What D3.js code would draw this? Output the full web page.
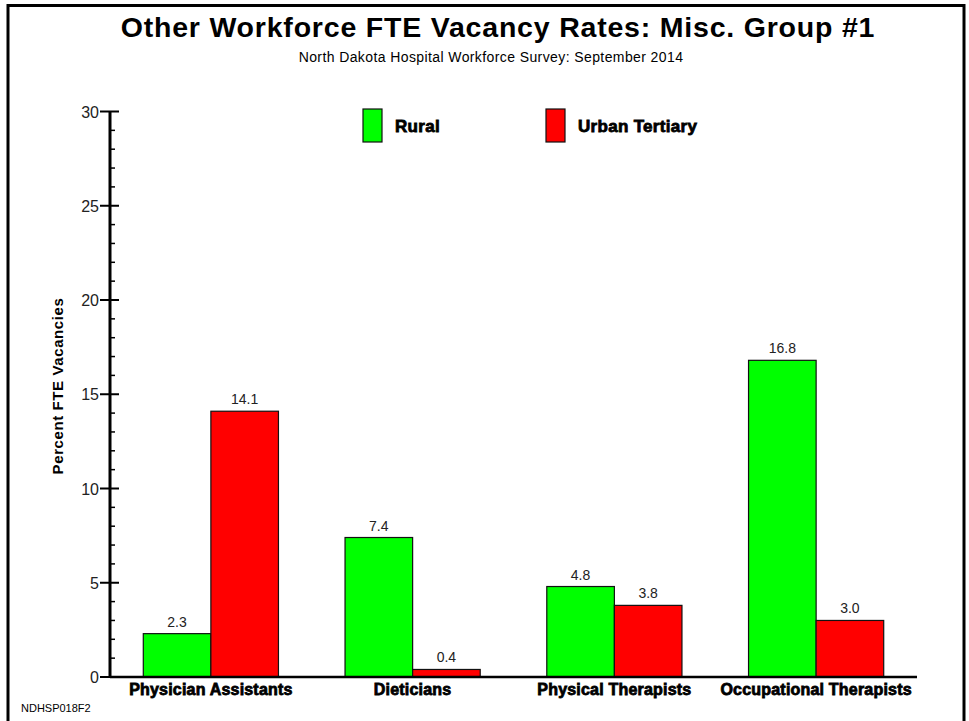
<!DOCTYPE html>
<head>
    <style>
        body { margin: 0; background: #fff; }
        text { font-family: "Liberation Sans", Arial, sans-serif; }
        .title { font-size: 28.5px; font-weight: bold; text-anchor: middle; letter-spacing: 0.8px; }
        .subtitle { font-size: 14px; text-anchor: middle; letter-spacing: 0.4px; }
        .cat { font-size: 16px; font-weight: bold; text-anchor: middle; stroke: #000; stroke-width: 0.8px; letter-spacing: 0.2px; }
        .leg { font-size: 17px; font-weight: bold; stroke: #000; stroke-width: 0.8px; letter-spacing: 0.3px; }
        .val { font-size: 14px; text-anchor: middle; fill: #222; }
        .tick-lbl { font-size: 16px; text-anchor: end; fill: #222; }
    </style>
    <script src="https://d3js.org/d3.v7.min.js"></script>
</head>
<body>
    <svg width="969" height="721"></svg>
    <script>
        var categories = ["Physician Assistants", "Dieticians", "Physical Therapists", "Occupational Therapists"];
        var seriesNames = ["Rural", "Urban Tertiary"];
        var rural = [2.3, 7.4, 4.8, 16.8];
        var urban = [14.1, 0.4, 3.8, 3.0];
        var yTicks = [0, 5, 10, 15, 20, 25, 30];
        var colors = ["#00ff00", "#ff0000"];

        var svg = d3.select("svg");

        // outer frame
        svg.append("rect")
           .attr("x", 8).attr("y", 5.5)
           .attr("width", 956).attr("height", 730)
           .attr("fill", "none").attr("stroke", "#000").attr("stroke-width", 3);

        svg.append("text").attr("class", "title")
           .attr("x", 498).attr("y", 37)
           .text("Other Workforce FTE Vacancy Rates: Misc. Group #1");
        svg.append("text").attr("class", "subtitle")
           .attr("x", 491).attr("y", 62)
           .text("North Dakota Hospital Workforce Survey: September 2014");

        var x0 = 110, x1 = 917, yTop = 111.5, yBot = 677;

        var x = d3.scaleBand().domain(categories).range([x0, x1])
                  .paddingInner(0.33).paddingOuter(0.165);
        var xs = d3.scaleBand().domain(seriesNames).range([0, x.bandwidth()]);
        var y = d3.scaleLinear().domain([0, 30]).range([yBot, yTop]);

        var g = svg.append("g");

        // bars
        var groups = g.selectAll(".grp")
            .data(categories)
            .enter().append("g")
            .attr("transform", function(d) { return "translate(" + x(d) + ",0)"; });

        groups.selectAll("rect")
            .data(function(d, i) { return [rural[i], urban[i]].map(function(v, j) { return { s: seriesNames[j], v: v, j: j }; }); })
            .enter().append("rect")
            .attr("x", function(d) { return xs(d.s); })
            .attr("y", function(d) { return y(d.v); })
            .attr("width", xs.bandwidth())
            .attr("height", function(d) { return yBot - y(d.v); })
            .attr("fill", function(d) { return colors[d.j]; })
            .attr("stroke", "#111").attr("stroke-width", 1.2);

        groups.selectAll(".val")
            .data(function(d, i) { return [rural[i], urban[i]].map(function(v, j) { return { s: seriesNames[j], v: v }; }); })
            .enter().append("text").attr("class", "val")
            .attr("x", function(d) { return xs(d.s) + xs.bandwidth() / 2; })
            .attr("y", function(d) { return y(d.v) - 7; })
            .text(function(d) { return d.v.toFixed(1); });

        // y axis: minor ticks every 1, major crossing ticks every 5
        var minor = d3.range(0, 31).filter(function(v) { return v % 5 !== 0; });
        g.selectAll(".minor").data(minor).enter().append("line")
            .attr("x1", x0).attr("x2", x0 + 5)
            .attr("y1", function(d) { return y(d); }).attr("y2", function(d) { return y(d); })
            .attr("stroke", "#000").attr("stroke-width", 1.5);
        g.selectAll(".major").data(yTicks).enter().append("line")
            .attr("x1", x0 - 10).attr("x2", x0 + 9)
            .attr("y1", function(d) { return y(d); }).attr("y2", function(d) { return y(d); })
            .attr("stroke", "#000").attr("stroke-width", 2);
        g.selectAll(".tick-lbl").data(yTicks).enter().append("text")
            .attr("class", "tick-lbl")
            .attr("x", x0 - 11)
            .attr("y", function(d) { return y(d) + 6; })
            .text(function(d) { return d; });

        g.append("line").attr("x1", x0).attr("x2", x0).attr("y1", yTop).attr("y2", yBot)
            .attr("stroke", "#000").attr("stroke-width", 3);
        g.append("line").attr("x1", x0).attr("x2", x1).attr("y1", yBot).attr("y2", yBot)
            .attr("stroke", "#000").attr("stroke-width", 2.5);

        // category labels
        g.selectAll(".cat").data(categories).enter().append("text")
            .attr("class", "cat")
            .attr("x", function(d) { return x(d) + x.bandwidth() / 2; })
            .attr("y", 695)
            .text(function(d) { return d; });

        // y label
        svg.append("text")
           .attr("transform", "translate(63,386) rotate(-90)")
           .attr("text-anchor", "middle")
           .style("font-size", "15px").style("font-weight", "bold")
           .style("letter-spacing", "0.6px")
           .text("Percent FTE Vacancies");

        // legend
        var legX = [363, 546];
        var leg = svg.selectAll(".legend").data(seriesNames).enter().append("g")
            .attr("transform", function(d, i) { return "translate(" + legX[i] + ",109)"; });
        leg.append("rect").attr("width", 19).attr("height", 33)
            .attr("fill", function(d, i) { return colors[i]; })
            .attr("stroke", "#111").attr("stroke-width", 1.2);
        leg.append("text").attr("class", "leg")
            .attr("x", 32).attr("y", 23)
            .text(function(d) { return d; });

        svg.append("text")
           .attr("x", 21).attr("y", 712)
           .style("font-size", "11px")
           .text("NDHSP018F2");
    </script>
</body>
</html>
